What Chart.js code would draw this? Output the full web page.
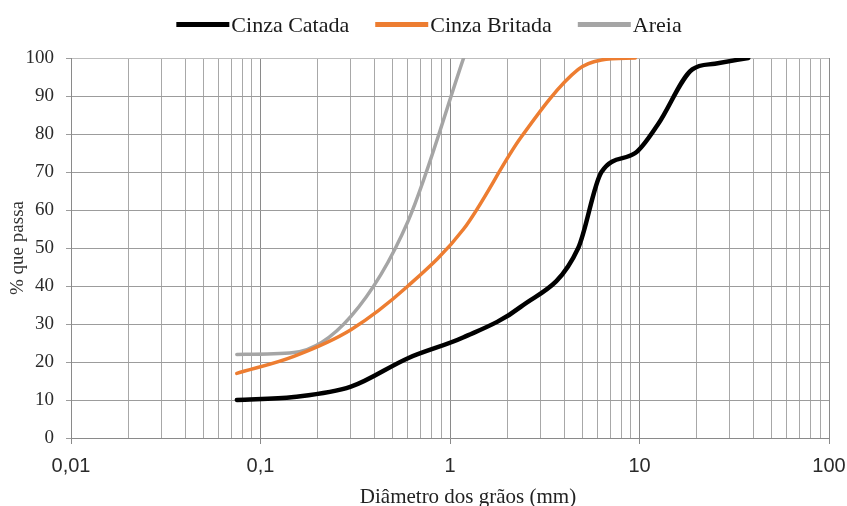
<!DOCTYPE html>
<html>
<head>
<meta charset="utf-8">
<script src="https://cdn.jsdelivr.net/npm/chart.js@4.4.0/dist/chart.umd.min.js"></script>
<style>
html,body{margin:0;padding:0;background:#fff;}
#wrap{width:847px;height:506px;position:relative;}
</style>
</head>
<body>
<div id="wrap"><canvas id="c"></canvas></div>
<script>
// ---- data ----
const seriesNames = ['Cinza Catada', 'Cinza Britada', 'Areia'];
const sievesCatada = [0.075, 0.15, 0.3, 0.6, 1.18, 2.36, 4.75, 6.3, 9.5, 12.5, 19, 25, 37.5];
const cinzaCatada  = [10, 10.8, 13.5, 21, 26.5, 34.5, 50, 70, 75, 82.5, 97, 98.5, 100];
const sievesBritada = [0.075, 0.15, 0.3, 0.6, 1.18, 2.36, 4.75, 6.3, 9.5];
const cinzaBritada  = [17, 21.5, 28.5, 40, 55, 79, 97, 99.5, 100];
const sievesAreia = [0.075, 0.15, 0.3, 0.6, 1.18];
const areia       = [22, 22.5, 32, 57, 100];
const xMajorTicks  = [0.01, 0.1, 1, 10, 100];
const xMajorLabels = ['0,01', '0,1', '1', '10', '100'];
const xMinorSteps  = [1, 2, 3, 4, 5, 6, 7, 8, 9];
const yMin = 0, yMax = 100, yStep = 10;
const xTitle = 'Diâmetro dos grãos (mm)';
const yTitle = '% que passa';

// grid values for the log axis: 1..9 x each decade
const xGridValues = [];
xMajorTicks.slice(0, -1).forEach(d => xMinorSteps.forEach(k => xGridValues.push(+(k * d).toPrecision(4))));
xGridValues.push(xMajorTicks[xMajorTicks.length - 1]);
const isMajor = v => xMajorTicks.some(m => Math.abs(m - v) / m < 1e-6);

const toPts = (xs, ys) => xs.map((x, i) => ({x: x, y: ys[i]}));
const colors = ['#000000', '#ED7D31', '#A5A5A5'];
const widths = [4.5, 3.5, 3.5];

const SERIF = '"Liberation Serif", "Times New Roman", serif';
const SANS = '"Liberation Sans", Arial, sans-serif';

const legendPlugin = {
  id: 'customLegend',
  afterDraw(chart) {
    const ctx = chart.ctx;
    ctx.save();
    ctx.font = '22px ' + SERIF;
    const lineW = 53, gap = 2, itemGap = 26;
    const items = chart.data.datasets.map(ds => ({label: ds.label, color: ds.borderColor, w: ctx.measureText(ds.label).width}));
    let total = 0;
    items.forEach((it, i) => { total += lineW + gap + it.w + (i < items.length - 1 ? itemGap : 0); });
    let x = 429 - total / 2;
    items.forEach(it => {
      ctx.fillStyle = it.color;
      ctx.fillRect(x, 22, lineW, 5);
      ctx.fillStyle = '#1a1a1a';
      ctx.textBaseline = 'alphabetic';
      ctx.textAlign = 'left';
      ctx.fillText(it.label, x + lineW + gap, 32);
      x += lineW + gap + it.w + itemGap;
    });
    // x axis title
    ctx.font = '21px ' + SERIF;
    ctx.fillStyle = '#222';
    ctx.textAlign = 'center';
    ctx.textBaseline = 'middle';
    ctx.fillText(xTitle, 468, 497);
    ctx.restore();
  }
};

new Chart(document.getElementById('c'), {
  type: 'line',
  data: {
    datasets: [
      {label: seriesNames[0], data: toPts(sievesCatada, cinzaCatada)},
      {label: seriesNames[1], data: toPts(sievesBritada, cinzaBritada)},
      {label: seriesNames[2], data: toPts(sievesAreia, areia)}
    ].map((d, i) => Object.assign(d, {
      borderColor: colors[i], backgroundColor: colors[i], borderWidth: widths[i],
      pointRadius: 0, pointHoverRadius: 0, fill: false, cubicInterpolationMode: 'monotone',
      borderCapStyle: 'round', borderJoinStyle: 'round'
    }))
  },
  options: {
    responsive: true,
    maintainAspectRatio: false,
    animation: false,
    layout: {padding: {top: 58, right: 0, bottom: 0, left: 0}},
    plugins: {legend: {display: false}, tooltip: {enabled: false}},
    scales: {
      x: {
        type: 'logarithmic',
        min: xMajorTicks[0],
        max: xMajorTicks[xMajorTicks.length - 1],
        afterBuildTicks(scale) {
          scale.ticks = xGridValues.map(v => ({value: v, major: isMajor(v)}));
        },
        afterFit(scale) { scale.height = 68; scale.paddingRight = 18; scale.paddingLeft = 0; },
        ticks: {
          autoSkip: false, maxRotation: 0, minRotation: 0, padding: 10,
          color: '#2a2a2a', font: {family: SANS, size: 20},
          callback(value) {
            const i = xMajorTicks.findIndex(m => Math.abs(m - value) / m < 1e-6);
            return i >= 0 ? xMajorLabels[i] : '';
          }
        },
        grid: {
          tickLength: 6,
          color: ctx => (ctx.tick && isMajor(ctx.tick.value)) ? '#8a8a8a' : '#a8a8a8',
          tickColor: ctx => (ctx.tick && isMajor(ctx.tick.value)) ? '#8a8a8a' : 'rgba(0,0,0,0)',
          lineWidth: 1
        },
        border: {display: true, color: '#8a8a8a'},
        title: {display: false}
      },
      y: {
        min: yMin, max: yMax,
        afterFit(scale) { scale.width = 71; },
        ticks: {stepSize: yStep, padding: 12, color: '#2a2a2a', font: {family: SERIF, size: 19}},
        grid: {tickLength: 5, color: ctx => (ctx.tick && ctx.tick.value === yMax) ? '#bdbdbd' : '#9c9c9c', tickColor: '#9c9c9c'},
        border: {display: true, color: '#8a8a8a'},
        title: {display: true, text: yTitle, color: '#333', font: {family: SERIF, size: 19}, padding: {top: 7, bottom: 0}}
      }
    }
  },
  plugins: [legendPlugin]
});
</script>
</body>
</html>
